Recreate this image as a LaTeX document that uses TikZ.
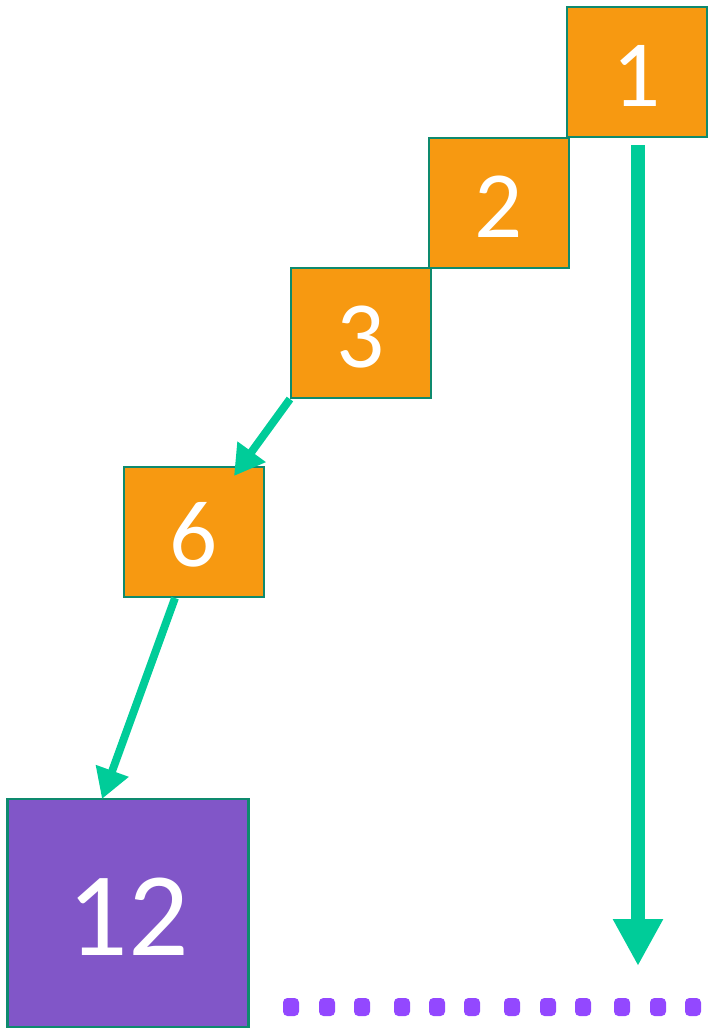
\documentclass[tikz,border=0pt]{standalone}
\usepackage{fontspec}
\setmainfont{Carlito}
\usetikzlibrary{arrows.meta}
\definecolor{boxorange}{RGB}{247,153,17}
\definecolor{boxedge}{RGB}{14,138,110}
\definecolor{arrowgreen}{RGB}{0,204,153}
\definecolor{boxpurple}{RGB}{129,86,200}
\definecolor{dotpurple}{RGB}{147,72,255}
\tikzset{
  sq/.style={draw=boxedge,line width=1.2pt,fill=boxorange,text=white,
    minimum width=2.8cm,minimum height=2.6cm,inner sep=0pt,text depth=0pt,
    text height=39pt,font=\fontsize{54}{54}\selectfont},
  bigsq/.style={sq,fill=boxpurple,minimum width=4.82cm,minimum height=4.56cm,
    text height=48pt,font=\fontsize{68}{68}\selectfont},
  link/.style={arrowgreen,line width=4.5pt,-{Triangle[length=0.6cm,width=0.66cm]}},
  biglink/.style={arrowgreen,line width=8pt,-{Triangle[length=0.94cm,width=0.94cm]}}
}
\begin{document}
\begin{tikzpicture}[x=0.02cm,y=-0.02cm]
\useasboundingbox (0,0) rectangle (708,1029);
\node[sq] (1) at (637,72) {1};
\node[sq] (2) at (499,203) {2};
\node[sq] (3) at (361,333) {3};
\node[sq] (6) at (194,532) {6};
\node[bigsq] (12) at (128,913) {12};
\coordinate (s1) at (638,145);
\coordinate (e1) at (638,966);
\coordinate (e6) at (234,476);
\coordinate (s12) at (175,598);
\coordinate (e12) at (102,799);
\draw[link] (3.south west) -- (e6);
\draw[link] (s12) -- (e12);
\draw[biglink] (s1) -- (e1);
% row of dots
\foreach \x in {291,327,362,402,437,472,512,548,583,622,658,693}
  \fill[dotpurple,rounded corners=2.5pt] (\x-8,998) rectangle (\x+8,1016);
\end{tikzpicture}
\end{document}
